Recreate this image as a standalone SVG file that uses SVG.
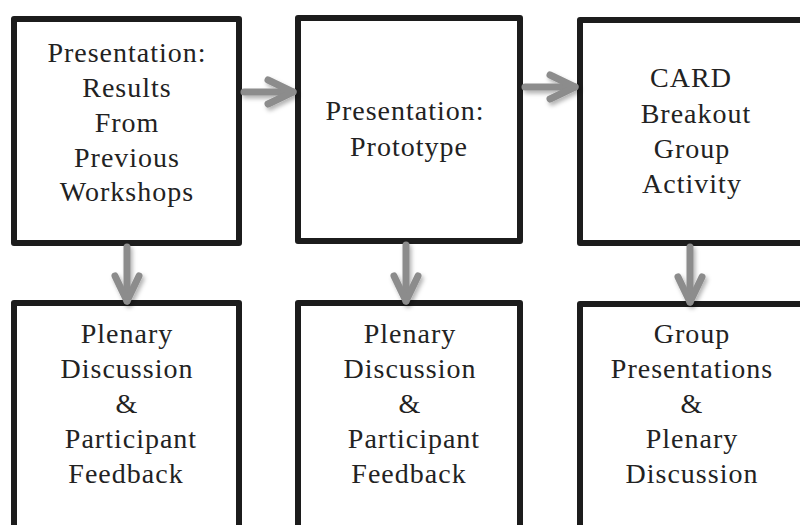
<svg xmlns="http://www.w3.org/2000/svg" width="800" height="525" viewBox="0 0 800 525">
<style>
.box{fill:#fff;stroke:#1c1c1c;stroke-width:6;stroke-linejoin:round}
.lbl{font-family:"Liberation Serif","DejaVu Serif",serif;font-size:28px;letter-spacing:1px;fill:#222;text-anchor:middle}
.conn{stroke:#8c8c8c;stroke-width:7;stroke-linecap:round;fill:none}
</style>
<defs>
<filter id="sh" x="-20%" y="-20%" width="140%" height="140%">
<feDropShadow dx="2" dy="3" stdDeviation="2" flood-color="#000" flood-opacity="0.3"/>
</filter>
<marker id="ah" markerUnits="userSpaceOnUse" viewBox="-34 -18 40 36" refX="0" refY="0" markerWidth="40" markerHeight="36" orient="auto" overflow="visible">
<path d="M-25,-12 L0,0 L-25,12" fill="none" stroke="#8c8c8c" stroke-width="7" stroke-linecap="round" stroke-linejoin="round"/>
</marker>
</defs>
<rect width="800" height="525" fill="#fff"/>
<g id="n1"><rect class="box" x="14" y="19" width="225" height="224"/>
<text class="lbl"><tspan x="127" y="62">Presentation:</tspan><tspan x="127" y="97">Results</tspan><tspan x="127" y="132">From</tspan><tspan x="127" y="167">Previous</tspan><tspan x="127" y="201">Workshops</tspan></text></g>
<g id="n2"><rect class="box" x="298" y="18" width="222" height="223"/>
<text class="lbl"><tspan x="405" y="120">Presentation:</tspan><tspan x="409" y="156">Prototype</tspan></text></g>
<g id="n3"><rect class="box" x="580" y="20" width="250" height="223"/>
<text class="lbl"><tspan x="691" y="87">CARD</tspan><tspan x="696" y="123">Breakout</tspan><tspan x="692" y="158">Group</tspan><tspan x="692" y="193">Activity</tspan></text></g>
<g id="n4"><rect class="box" x="14" y="303" width="225" height="240"/>
<text class="lbl"><tspan x="127" y="343">Plenary</tspan><tspan x="127" y="378">Discussion</tspan><tspan x="127" y="413">&amp;</tspan><tspan x="131" y="448">Participant</tspan><tspan x="126" y="483">Feedback</tspan></text></g>
<g id="n5"><rect class="box" x="298" y="303" width="222" height="240"/>
<text class="lbl"><tspan x="410" y="343">Plenary</tspan><tspan x="410" y="378">Discussion</tspan><tspan x="410" y="413">&amp;</tspan><tspan x="414" y="448">Participant</tspan><tspan x="409" y="483">Feedback</tspan></text></g>
<g id="n6"><rect class="box" x="580" y="304" width="250" height="240"/>
<text class="lbl"><tspan x="692" y="343">Group</tspan><tspan x="692" y="378">Presentations</tspan><tspan x="692" y="413">&amp;</tspan><tspan x="692" y="448">Plenary</tspan><tspan x="692" y="483">Discussion</tspan></text></g>
<g id="connectors" filter="url(#sh)">
<path class="conn" d="M244,92 H293" marker-end="url(#ah)"/>
<path class="conn" d="M525,87 H575" marker-end="url(#ah)"/>
<path class="conn" d="M127,247 V301" marker-end="url(#ah)"/>
<path class="conn" d="M406,245 V301" marker-end="url(#ah)"/>
<path class="conn" d="M690,247 V302" marker-end="url(#ah)"/>
</g>
</svg>
